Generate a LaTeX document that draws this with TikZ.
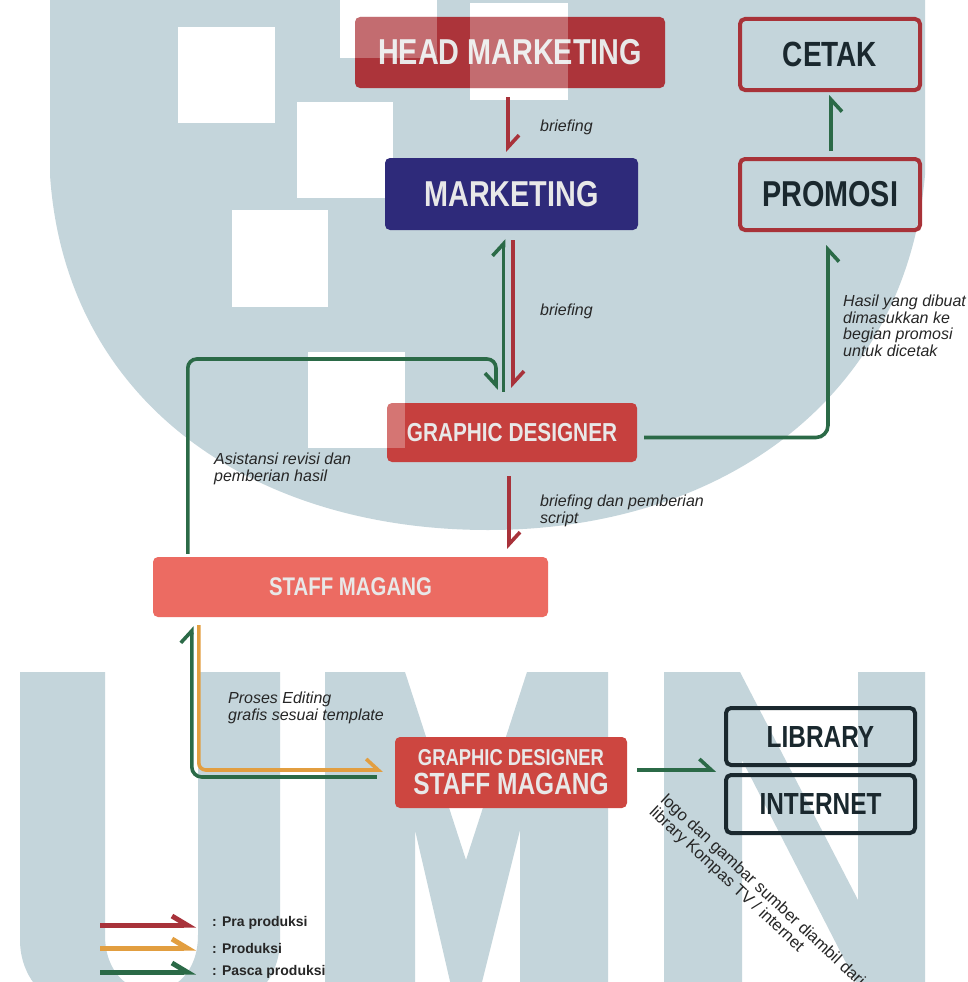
\documentclass[tikz,border=0pt]{standalone}
\usepackage{fontspec}
\setmainfont{Liberation Sans}
\newfontfamily\condf[FakeStretch=0.8]{Liberation Sans}
\usetikzlibrary{arrows.meta,calc}
\definecolor{wm}{RGB}{196,213,219}
\definecolor{hmred}{RGB}{172,52,58}
\definecolor{navy}{RGB}{46,42,122}
\definecolor{gdred}{RGB}{198,64,62}
\definecolor{salmon}{RGB}{236,107,98}
\definecolor{gdsmred}{RGB}{205,70,64}
\definecolor{brd}{RGB}{168,50,56}
\definecolor{dk}{RGB}{26,40,46}
\definecolor{arrred}{RGB}{168,50,58}
\definecolor{arrgreen}{RGB}{43,106,71}
\definecolor{arrorange}{RGB}{226,158,64}
\definecolor{boxtext}{RGB}{232,232,232}
\definecolor{lbltext}{RGB}{38,38,38}
\begin{document}
\begin{tikzpicture}[x=1pt,y=-1pt,
  fbox/.style={rectangle, rounded corners=5pt, inner sep=0pt, text=boxtext, draw=none},
  obox/.style={rectangle, rounded corners=5pt, inner sep=0pt, text=dk, line width=4pt},
  lbl/.style={inner sep=0pt, text=lbltext, align=left, font=\itshape\fontsize{16}{16.5}\selectfont},
  legtext/.style={inner sep=0pt, text=lbltext, font=\bfseries\fontsize{14}{14}\selectfont},
  conn/.style={line width=3.6pt},
  tipL/.style={-{Straight Barb[harpoon, length=12pt, width=22pt]}},
  tipR/.style={-{Straight Barb[harpoon, swap, length=12pt, width=22pt]}},
  redline/.style={conn, draw=arrred},
  greenline/.style={conn, draw=arrgreen},
  orangeline/.style={conn, draw=arrorange},
  legline/.style={line width=5pt, -{Straight Barb[harpoon, length=15pt, width=18pt]}}
]
\useasboundingbox (0,0) rectangle (968,982);
\clip (0,0) rectangle (968,982);
\fill[white] (0,0) rectangle (968,982);
% ---- watermark ----
\fill[wm] (50,0) -- (50,175) .. controls (65,400) and (250,530) .. (488,530)
  .. controls (720,530) and (905,400) .. (925,175) -- (925,0) -- cycle;
\fill[white] (178,27) rectangle (275,123);
\fill[white] (297,102) rectangle (393,198);
\fill[white] (232,210) rectangle (328,307);
\fill[white] (308,352) rectangle (405,448);
\fill[white] (340,-40) rectangle (437,58);
\fill[white] (470,3) rectangle (568,100);
% U
\fill[wm] (20,672) -- (105,672) -- (105,935) .. controls (105,1010) and (198,1010) .. (198,935)
  -- (198,672) -- (280,672) -- (280,940) .. controls (280,1060) and (20,1060) .. (20,940) -- cycle;
% M
\fill[wm] (325,672) -- (405,672) -- (466,860) -- (527,672) -- (608,672) -- (608,990)
  -- (520,990) -- (520,830) -- (480,990) -- (452,990) -- (415,830) -- (415,990) -- (325,990) -- cycle;
% N
\fill[wm] (664,672) -- (740,672) -- (858,900) -- (858,672) -- (925,672) -- (925,990)
  -- (860,990) -- (742,760) -- (742,990) -- (664,990) -- cycle;
% ---- boxes ----
\node[fbox, fill=hmred, minimum width=310pt, minimum height=71pt, font=\condf\bfseries\fontsize{36}{36}\selectfont] (hm) at (510,52.5) {HEAD MARKETING};
\node[fbox, fill=navy, minimum width=253pt, minimum height=72pt, font=\condf\bfseries\fontsize{36}{36}\selectfont] (mk) at (511.5,194) {MARKETING};
\node[obox, draw=brd, minimum width=180pt, minimum height=71pt, font=\condf\bfseries\fontsize{35}{35}\selectfont] (ce) at (830,54.5) {CETAK};
\node[obox, draw=brd, minimum width=180pt, minimum height=71pt, font=\condf\bfseries\fontsize{36}{36}\selectfont] (pr) at (830,194.5) {PROMOSI};
\node[fbox, fill=gdred, minimum width=250pt, minimum height=59pt, font=\condf\bfseries\fontsize{26}{26}\selectfont] (gd) at (512,432.5) {GRAPHIC DESIGNER};
\node[fbox, fill=salmon, minimum width=395pt, minimum height=60pt, font=\condf\bfseries\fontsize{25.5}{25.5}\selectfont] (sm) at (350.5,587) {STAFF MAGANG};
\node[fbox, fill=gdsmred, minimum width=232pt, minimum height=71pt, align=center, font=\condf\bfseries\fontsize{30.6}{29}\selectfont] (gdsm) at (511,772.5) {{\fontsize{23}{29}\selectfont GRAPHIC DESIGNER}\\STAFF MAGANG};
\node[obox, draw=dk, minimum width=189pt, minimum height=57pt, font=\condf\bfseries\fontsize{30.5}{30.5}\selectfont] (lib) at (820.5,736.5) {LIBRARY};
\node[obox, draw=dk, minimum width=189pt, minimum height=58pt, font=\condf\bfseries\fontsize{30.5}{30.5}\selectfont] (int) at (820.5,804) {INTERNET};
% overlay light squares of watermark
\fill[white, opacity=0.28] (470,17) rectangle (568,88);
\fill[white, opacity=0.28] (355,17) rectangle (437,58);
\fill[white, opacity=0.28] (387,403) rectangle (405,448);
% ---- connectors ----
\draw[redline, tipL, shorten <=9pt, shorten >=6pt] ([xshift=-2pt]hm.south) -- ([xshift=-2pt]hm.south |- mk.north);
\draw[greenline, tipR, shorten <=6pt, shorten >=3pt] ([xshift=1pt]pr.north) -- ([xshift=1pt]pr.north |- ce.south);
\draw[greenline, tipL, shorten <=11pt, shorten >=9pt] ([xshift=-8.5pt]gd.north) -- ([xshift=-8.5pt]gd.north |- mk.south);
\draw[redline, tipL, shorten <=10pt, shorten >=15pt] ([xshift=1.5pt]mk.south) -- ([xshift=1.5pt]mk.south |- gd.north);
\coordinate (lc) at (496,359);
\draw[greenline, tipR, rounded corners=9pt, shorten >=13pt] ([xshift=35pt,yshift=3pt]sm.north west) |- (lc) -- (lc |- gd.north);
\draw[greenline, tipR, rounded corners=12pt, shorten >=13pt] ([shift={(7,5)}]gd.east) -| ([xshift=-2pt]pr.south);
\draw[redline, tipL, shorten <=14pt, shorten >=8pt] ([xshift=-3pt]gd.south) -- ([xshift=-3pt]gd.south |- sm.north);
\draw[greenline, tipL, rounded corners=10pt, shorten >=9pt] ([shift={(-18,4.5)}]gdsm.west) -| ([xshift=39pt]sm.south west);
\draw[orangeline, tipL, rounded corners=7pt, shorten <=8pt, shorten >=12pt] ([xshift=46pt]sm.south west) |- ([yshift=2.5pt]gdsm.west);
\coordinate (li) at ($(lib.south west)!0.5!(int.north west)$);
\draw[greenline, tipL, shorten <=10pt, shorten >=8pt] (gdsm.east |- li) -- (li);
% ---- labels ----
\node[lbl, anchor=west] (b1) at (540,127) {briefing};
\node[lbl, anchor=west] (b2) at (540,311) {briefing};
\node[lbl, anchor=north west] (hasil) at (843,295) {Hasil yang dibuat\\dimasukkan ke\\begian promosi\\untuk dicetak};
\node[lbl, anchor=north west] (asis) at (214,453) {Asistansi revisi dan\\pemberian hasil};
\node[lbl, anchor=north west] (bdp) at (540,495) {briefing dan pemberian\\script};
\node[lbl, anchor=north west] (pe) at (228,692) {Proses Editing\\grafis sesuai template};
\node[inner sep=0pt, text=lbltext, align=left, rotate=-43, anchor=north west, font=\fontsize{16.5}{16.5}\selectfont] (logo) at (668,792) {logo dan gambar sumber diambil dari\\library Kompas TV / internet};
% ---- legend ----
\node[legtext, anchor=west] (lg1) at (212,923) {: Pra produksi};
\node[legtext, anchor=west] (lg2) at (212,948) {: Produksi};
\node[legtext, anchor=west] (lg3) at (212,972) {: Pasca produksi};
\coordinate (ls1) at (100,925);
\coordinate (ls2) at (100,948);
\coordinate (ls3) at (100,972);
\coordinate (le1) at ($(lg1.west |- ls1)+(-16,0)$);
\coordinate (le2) at ($(lg2.west |- ls2)+(-16,0)$);
\coordinate (le3) at ($(lg3.west |- ls3)+(-16,0)$);
\draw[legline, draw=arrred] (ls1) -- (le1);
\draw[legline, draw=arrorange] (ls2) -- (le2);
\draw[legline, draw=arrgreen] (ls3) -- (le3);
\end{tikzpicture}
\end{document}
